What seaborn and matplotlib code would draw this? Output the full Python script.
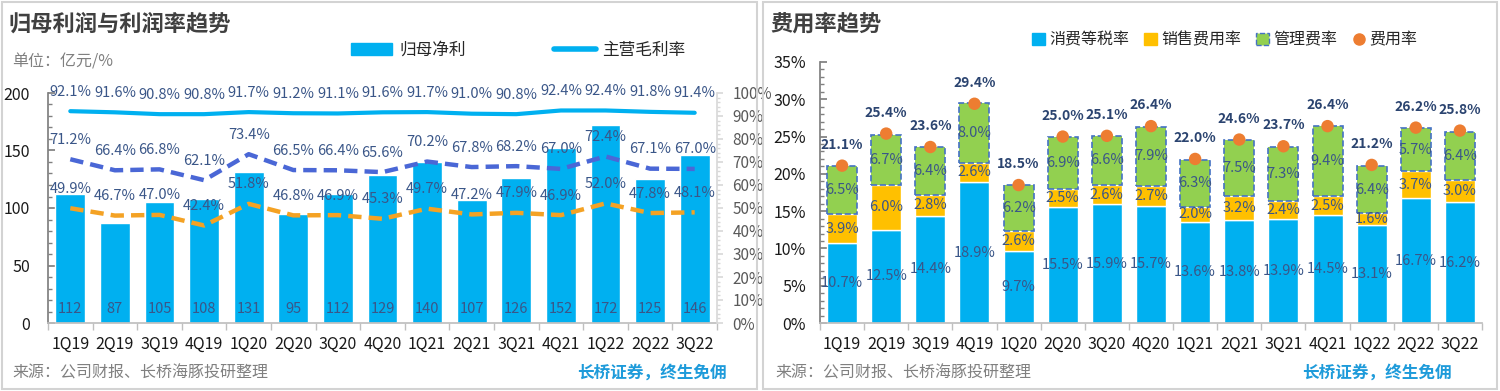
import numpy as np
import matplotlib
matplotlib.use('Agg')
import matplotlib.pyplot as plt
import seaborn as sns
from matplotlib.patches import Rectangle, Patch
from matplotlib.lines import Line2D
from matplotlib.ticker import MultipleLocator, FixedLocator, FuncFormatter

# --- data ---
quarters = ['1Q19', '2Q19', '3Q19', '4Q19', '1Q20', '2Q20', '3Q20', '4Q20',
            '1Q21', '2Q21', '3Q21', '4Q21', '1Q22', '2Q22', '3Q22']

# left: 归母净利 (亿元) + margins (%)
net_profit = [112, 87, 105, 108, 131, 95, 112, 129, 140, 107, 126, 152, 172, 125, 146]
gross_margin = [92.1, 91.6, 90.8, 90.8, 91.7, 91.2, 91.1, 91.6, 91.7, 91.0, 90.8, 92.4, 92.4, 91.8, 91.4]
op_margin = [71.2, 66.4, 66.8, 62.1, 73.4, 66.5, 66.4, 65.6, 70.2, 67.8, 68.2, 67.0, 72.4, 67.1, 67.0]
net_margin = [49.9, 46.7, 47.0, 42.4, 51.8, 46.8, 46.9, 45.3, 49.7, 47.2, 47.9, 46.9, 52.0, 47.8, 48.1]

# right: expense ratios (%)
tax_rate = [10.7, 12.5, 14.4, 18.9, 9.7, 15.5, 15.9, 15.7, 13.6, 13.8, 13.9, 14.5, 13.1, 16.7, 16.2]
sales_rate = [3.9, 6.0, 2.8, 2.6, 2.6, 2.5, 2.6, 2.7, 2.0, 3.2, 2.4, 2.5, 1.6, 3.7, 3.0]
admin_rate = [6.5, 6.7, 6.4, 8.0, 6.2, 6.9, 6.6, 7.9, 6.3, 7.5, 7.3, 9.4, 6.4, 5.7, 6.4]
total_rate = [21.1, 25.4, 23.6, 29.4, 18.5, 25.0, 25.1, 26.4, 22.0, 24.6, 23.7, 26.4, 21.2, 26.2, 25.8]

# --- colours ---
BLUE = '#00B0F0'
YELLOW = '#FFC000'
GREEN = '#92D050'
ORANGE = '#ED7D31'
DASH_BLUE = '#4A67D6'
DASH_ORANGE = '#F4A224'
LABEL = '#3A5688'
NAVY = '#2B4470'

sns.set_theme(style='white')
plt.rcParams['font.family'] = ['Noto Sans CJK SC', 'DejaVu Sans']
plt.rcParams['axes.unicode_minus'] = False

fig = plt.figure(figsize=(15, 3.91), dpi=100)
W, H = 1500, 391


def fx(px):
    return px / W


def fy(py):
    return 1 - py / H


# panel frames
for x0, x1 in [(2, 757), (763, 1497)]:
    fig.add_artist(Rectangle((fx(x0), fy(389)), fx(x1 - x0), 387 / H,
                             transform=fig.transFigure, fill=False,
                             ec='#D3D3D3', lw=1.5))

pct = FuncFormatter(lambda v, p: f'{v:.0f}%')
x = np.arange(len(quarters))
LBL = 10.5   # data label size
TICK = 11.5  # tick label size

# ================= left chart =================
ax = fig.add_axes([fx(48), fy(323), fx(717 - 48), (323 - 93) / H])
sns.barplot(x=quarters, y=net_profit, color=BLUE, saturation=1, width=0.67, ax=ax)
ax.set_ylim(0, 200)
ax.set_xlim(-0.5, 14.5)
ax.set_xlabel('')
ax.set_ylabel('')
for i, v in enumerate(net_profit):
    ax.annotate(str(v), (i, 0), xytext=(0, 10), textcoords='offset points',
                ha='center', va='center', fontsize=LBL, color=LABEL)

ax2 = ax.twinx()
sns.lineplot(x=x, y=gross_margin, color=BLUE, lw=3, ax=ax2)
sns.lineplot(x=x, y=op_margin, color=DASH_BLUE, lw=3.2, linestyle=(0, (3, 1.6)), ax=ax2)
sns.lineplot(x=x, y=net_margin, color=DASH_ORANGE, lw=3.2, linestyle=(0, (3, 1.6)), ax=ax2)
ax2.set_ylim(0, 100)
ax2.set_xlim(-0.5, 14.5)
ax2.set_xlabel('')
ax2.set_ylabel('')
for series in (gross_margin, op_margin, net_margin):
    for i, v in enumerate(series):
        ax2.annotate(f'{v:.1f}%', (i, v), xytext=(0, 14), textcoords='offset points',
                     ha='center', va='center', fontsize=LBL, color=LABEL)

ax.yaxis.set_major_locator(MultipleLocator(50))
ax.yaxis.set_minor_locator(MultipleLocator(10))
ax.tick_params(axis='y', which='major', left=True, direction='in', length=5,
               color='#808080', labelsize=TICK, pad=13, labelcolor='#1a1a1a')
ax.tick_params(axis='y', which='minor', left=True, direction='in', length=3, color='#808080')
ax.set_xticks(x)
ax.set_xticklabels(quarters)
ax.xaxis.set_minor_locator(FixedLocator(np.arange(-0.5, 15, 1)))
ax.tick_params(axis='x', which='major', length=0, labelsize=TICK, pad=9, labelcolor='#1a1a1a')
ax.tick_params(axis='x', which='minor', bottom=True, direction='out', length=5, color='#BFBFBF')
for s in ('top', 'right'):
    ax.spines[s].set_visible(False)
ax.spines['left'].set_color('#808080')
ax.spines['bottom'].set_color('#BFBFBF')

ax2.yaxis.set_major_locator(MultipleLocator(10))
ax2.yaxis.set_minor_locator(MultipleLocator(2))
ax2.yaxis.set_major_formatter(pct)
ax2.tick_params(axis='y', which='major', right=True, direction='out', length=4,
                color='#D9D9D9', labelsize=11, pad=7, labelcolor='#595959')
ax2.tick_params(axis='y', which='minor', right=True, direction='out', length=2, color='#D9D9D9')
for s in ('top', 'left', 'bottom'):
    ax2.spines[s].set_visible(False)
ax2.spines['right'].set_color('#D9D9D9')

fig.legend(handles=[Patch(color=BLUE), Line2D([], [], color=BLUE, lw=4)],
           labels=['归母净利', '主营毛利率'], loc='center',
           bbox_to_anchor=(fx(518), fy(50)), ncol=2, frameon=False,
           fontsize=12, handlelength=2.5, handleheight=0.7,
           columnspacing=5.3, handletextpad=0.4)

fig.text(fx(8), fy(24), '归母利润与利润率趋势', fontsize=16, weight='bold',
         color='#404040', va='center', ha='left')
fig.text(fx(12), fy(62), '单位：亿元/%', fontsize=11.5, color='#808080',
         va='center', ha='left')
fig.text(fx(12), fy(373), '来源：公司财报、长桥海豚投研整理', fontsize=11.5,
         color='#808080', va='center', ha='left')
fig.text(fx(727), fy(373), '长桥证券，终生免佣', fontsize=12, weight='bold',
         color='#1E9BDA', va='center', ha='right')

# ================= right chart =================
bx = fig.add_axes([fx(820), fy(323), fx(1482 - 820), (323 - 62) / H])
base2 = np.add(tax_rate, sales_rate)
sns.barplot(x=quarters, y=tax_rate, color=BLUE, saturation=1, width=0.68, ax=bx)
sns.barplot(x=quarters, y=sales_rate, bottom=tax_rate, color=YELLOW,
            saturation=1, width=0.68, ax=bx)
sns.barplot(x=quarters, y=admin_rate, bottom=base2, color=GREEN, saturation=1,
            width=0.68, edgecolor='#4472C4', linewidth=1.2, linestyle='--', ax=bx)
sns.scatterplot(x=x, y=total_rate, color=ORANGE, s=80, edgecolor='none',
                zorder=5, ax=bx)
bx.set_ylim(0, 35)
bx.set_xlim(-0.5, 14.5)
bx.set_xlabel('')
bx.set_ylabel('')

for i in range(len(quarters)):
    t, s_, a = tax_rate[i], sales_rate[i], admin_rate[i]
    bx.text(i, t / 2, f'{t:.1f}%', ha='center', va='center', fontsize=LBL, color=LABEL)
    bx.text(i, t + s_ / 2, f'{s_:.1f}%', ha='center', va='center', fontsize=LBL, color=LABEL)
    bx.text(i, t + s_ + a / 2, f'{a:.1f}%', ha='center', va='center', fontsize=LBL, color=LABEL)
    bx.annotate(f'{total_rate[i]:.1f}%', (i, total_rate[i]), xytext=(0, 15),
                textcoords='offset points', ha='center', va='center',
                fontsize=10, weight='bold', color=NAVY)

bx.yaxis.set_major_locator(MultipleLocator(5))
bx.yaxis.set_minor_locator(MultipleLocator(1))
bx.yaxis.set_major_formatter(pct)
bx.tick_params(axis='y', which='major', left=True, direction='in', length=5,
               color='#808080', labelsize=TICK, pad=10, labelcolor='#1a1a1a')
bx.tick_params(axis='y', which='minor', left=True, direction='in', length=3, color='#808080')
bx.set_xticks(x)
bx.set_xticklabels(quarters)
bx.xaxis.set_minor_locator(FixedLocator(np.arange(-0.5, 15, 1)))
bx.tick_params(axis='x', which='major', length=0, labelsize=TICK, pad=9, labelcolor='#1a1a1a')
bx.tick_params(axis='x', which='minor', bottom=True, direction='out', length=5, color='#BFBFBF')
for s in ('top', 'right'):
    bx.spines[s].set_visible(False)
bx.spines['left'].set_color('#808080')
bx.spines['bottom'].set_color('#BFBFBF')

fig.legend(handles=[Patch(color=BLUE), Patch(color=YELLOW),
                    Patch(facecolor=GREEN, edgecolor='#4472C4', linestyle='--', lw=1),
                    Line2D([], [], ls='none', marker='o', color=ORANGE, markersize=8)],
           labels=['消费等税率', '销售费用率', '管理费率', '费用率'], loc='center',
           bbox_to_anchor=(fx(1225), fy(40)), ncol=4, frameon=False,
           fontsize=11.5, handlelength=0.8, handleheight=0.8,
           columnspacing=0.9, handletextpad=0.3)

fig.text(fx(770), fy(24), '费用率趋势', fontsize=16, weight='bold',
         color='#404040', va='center', ha='left')
fig.text(fx(775), fy(373), '来源：公司财报、长桥海豚投研整理', fontsize=11.5,
         color='#808080', va='center', ha='left')
fig.text(fx(1452), fy(373), '长桥证券，终生免佣', fontsize=12, weight='bold',
         color='#1E9BDA', va='center', ha='right')

fig.savefig('out.png', dpi=100)
